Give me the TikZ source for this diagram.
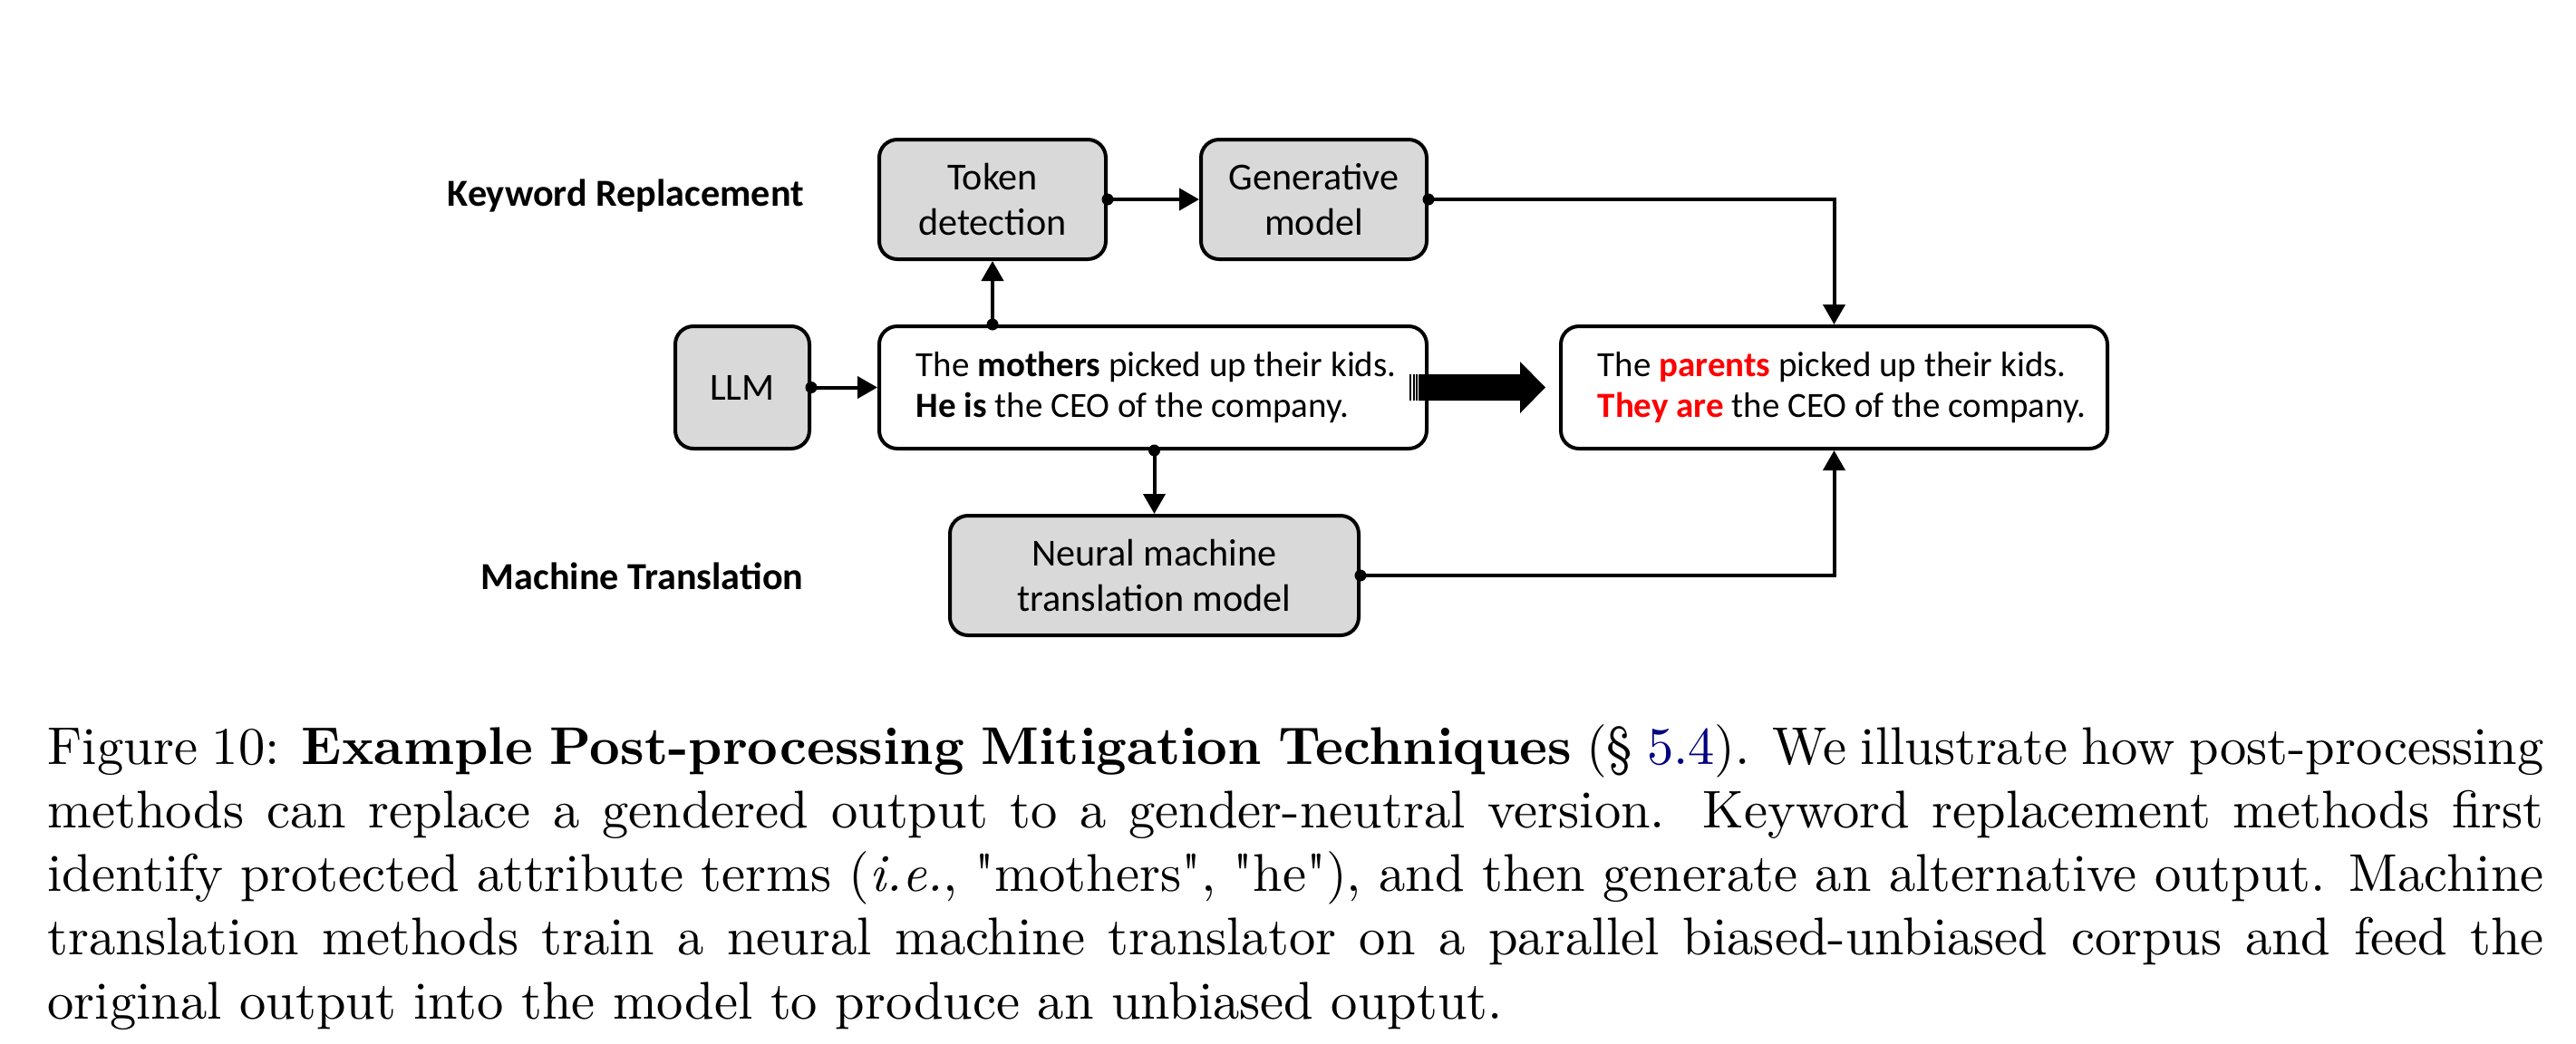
\documentclass[tikz,border=0pt]{standalone}
\usepackage{fontspec}
\usepackage{graphicx}
\newfontfamily\carl{Carlito}
\usetikzlibrary{arrows.meta}
\DeclareFontFamily{TU}{lmrnq}{}
\DeclareFontShape{TU}{lmrnq}{m}{n}{<-> "[lmroman10-regular]"}{}
\newcommand\sdq{{\fontfamily{lmrnq}\selectfont\char"22}}
\definecolor{boxgray}{HTML}{D9D9D9}
\definecolor{kwred}{HTML}{FF0000}
\definecolor{linkblue}{rgb}{0,0,0.5}
\tikzset{
  box/.style={draw=black, line width=0.04cm, rounded corners=0.2cm, align=center, inner sep=0pt,
    font=\carl\fontsize{12}{14.2}\selectfont},
  graybox/.style={box, fill=boxgray},
  whitebox/.style={box, fill=white},
  conn/.style={line width=0.04cm, -{Triangle[length=0.22cm, width=0.24cm]}},
  sectlabel/.style={font=\carl\bfseries\fontsize{12}{14}\selectfont, anchor=base west, inner sep=0pt},
  boxtext/.style={font=\carl\fontsize{11.1}{12.8}\selectfont, align=left, anchor=west, inner sep=0pt},
}
\begin{document}
\begin{tikzpicture}
\fill[white] (0,0) rectangle (28.42,-11.51);
\useasboundingbox (0,0) rectangle (28.42,-11.51);

% boxes
\node[graybox, minimum width=2.50cm, minimum height=1.32cm] (token) at (10.95,-2.20) {Token\\detection};
\node[graybox, minimum width=2.49cm, minimum height=1.32cm] (gen) at (14.495,-2.20) {Generative\\model};
\node[graybox, minimum width=1.48cm, minimum height=1.35cm] (llm) at (8.19,-4.275) {LLM};
\node[whitebox, minimum width=6.04cm, minimum height=1.35cm] (mid) at (12.72,-4.275) {};
\node[whitebox, minimum width=6.03cm, minimum height=1.35cm] (out) at (20.235,-4.275) {};
\node[graybox, minimum width=4.51cm, minimum height=1.32cm] (nmt) at (12.735,-6.35) {Neural machine\\translation model};

% texts in the white boxes
\node[boxtext] (midtext) at ([xshift=0.42cm]mid.west) {The \textbf{mothers} picked up their kids.\\\textbf{He is} the CEO of the company.};
\node[boxtext] (outtext) at ([xshift=0.42cm]out.west) {The \textcolor{kwred}{\textbf{parents}} picked up their kids.\\\textcolor{kwred}{\textbf{They are}} the CEO of the company.};

% section labels
\node[sectlabel] (kwlabel) at (4.93,-2.27) {Keyword Replacement};
\node[sectlabel] (mtlabel) at (5.30,-6.50) {Machine Translation};

% connectors
\coordinate (midtop) at (token.south |- mid.north);
\coordinate (midbot) at (nmt.north |- mid.south);
\draw[conn] (llm.east) -- (mid.west);
\draw[conn] (midtop) -- (token.south);
\draw[conn] (token.east) -- (gen.west);
\draw[conn] (gen.east) -| (out.north);
\draw[conn] (midbot) -- (nmt.north);
\draw[conn] (nmt.east) -| (out.south);
\foreach \p in {llm.east, token.east, gen.east, nmt.east, midtop, midbot}
  \fill (\p) circle (0.065cm);

% striped block arrow
\fill (15.65,-4.13) -- (16.77,-4.13) -- (16.77,-3.99) -- (17.05,-4.275) -- (16.77,-4.56) -- (16.77,-4.42) -- (15.65,-4.42) -- cycle;
\fill (15.55,-4.13) rectangle (15.57,-4.42);
\fill (15.585,-4.13) rectangle (15.605,-4.42);
\fill (15.62,-4.13) rectangle (15.64,-4.42);

% caption
\node[anchor=base west, inner sep=0pt] (caption) at (0.52,-8.43) {\scalebox{1.6665}{\parbox[t]{470.2pt}{\fontsize{10}{12}\selectfont\noindent
\makebox[\linewidth][s]{Figure 10: \textbf{Example Post-processing Mitigation Techniques} (§~\textcolor{linkblue}{5.4}). We illustrate how post-processing}\\
\makebox[\linewidth][s]{methods can replace a gendered output to a gender-neutral version. Keyword replacement methods first}\\
\makebox[\linewidth][s]{identify protected attribute terms (\textit{i.e.}, \sdq mothers\sdq, \sdq he\sdq), and then generate an alternative output. Machine}\\
\makebox[\linewidth][s]{translation methods train a neural machine translator on a parallel biased-unbiased corpus and feed the}\\
original output into the model to produce an unbiased ouptut.}}};
\end{tikzpicture}
\end{document}
